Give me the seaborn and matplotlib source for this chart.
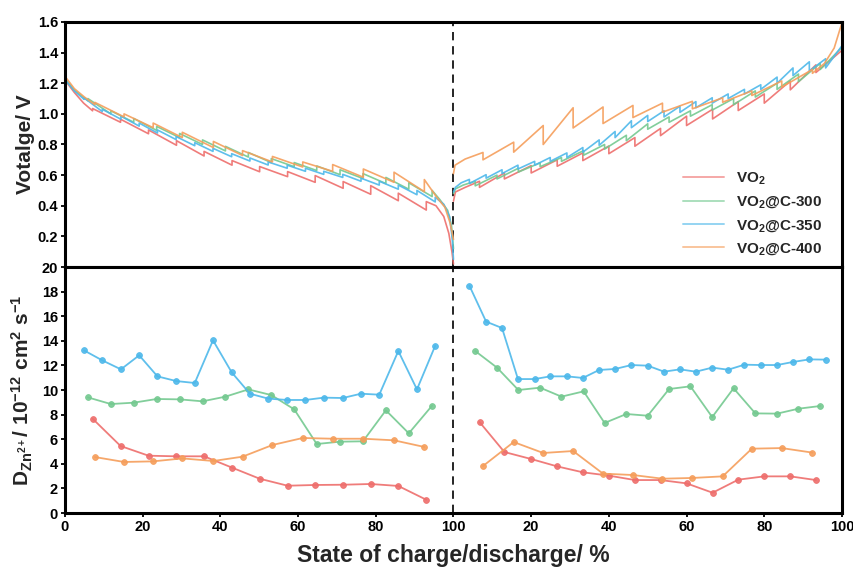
import matplotlib
matplotlib.use("Agg")
import matplotlib.pyplot as plt
import numpy as np
import pandas as pd
import seaborn as sns

# ---------------------------------------------------------------- series
names = ["VO2", "VO2@C-300", "VO2@C-350", "VO2@C-400"]
labels = [r"$\mathbf{VO_2}$", r"$\mathbf{VO_2}$@C-300",
          r"$\mathbf{VO_2}$@C-350", r"$\mathbf{VO_2}$@C-400"]
colors = ["#EE6E6C", "#74C990", "#4DB8EA", "#F59E5B"]

# ---- discharge GITT (state of discharge 0-100 %)
# each titration step: voltage at end of pulse (lo) and after relaxation (hi)
dis_steps_vo2 = [7.1, 14.3, 21.5, 28.7, 35.8, 43.0, 50.1, 57.3, 64.4, 71.6, 78.7, 85.8, 93.0]
dis_lo_vo2 = [1.02, 0.945, 0.87, 0.795, 0.725, 0.665, 0.622, 0.59, 0.553, 0.514, 0.475, 0.433, 0.372]
dis_hi_vo2 = [1.035, 0.965, 0.895, 0.825, 0.755, 0.695, 0.656, 0.623, 0.597, 0.558, 0.531, 0.482, 0.427]
dis_head_x_vo2, dis_head_v_vo2 = [0, 2.4, 4.8], [1.22, 1.14, 1.07]
dis_tail_x_vo2, dis_tail_v_vo2 = [95.5, 97.5, 98.8, 99.6, 100], [0.40, 0.33, 0.22, 0.10, 0.02]

dis_steps_c300 = [5.9, 11.8, 17.7, 23.6, 29.5, 35.4, 41.3, 47.2, 53.1, 59.0, 64.8, 70.8, 76.7, 82.6, 88.5, 94.5]
dis_lo_c300 = [1.085, 1.0, 0.945, 0.892, 0.845, 0.80, 0.758, 0.718, 0.682, 0.655, 0.63, 0.603, 0.578, 0.545, 0.508, 0.46]
dis_hi_c300 = [1.10, 1.02, 0.97, 0.918, 0.872, 0.83, 0.788, 0.748, 0.708, 0.682, 0.66, 0.635, 0.61, 0.585, 0.55, 0.50]
dis_head_x_c300, dis_head_v_c300 = [0, 2.4], [1.23, 1.155]
dis_tail_x_c300, dis_tail_v_c300 = [96.5, 98.5, 99.5, 100], [0.44, 0.37, 0.27, 0.12]

dis_steps_c350 = [4.9, 9.6, 14.4, 19.1, 23.8, 28.6, 33.4, 38.1, 42.9, 47.6, 52.3, 57.2, 61.9, 66.6, 71.5, 76.2, 80.9, 85.8, 90.6, 95.3]
dis_lo_c350 = [1.095, 1.015, 0.965, 0.92, 0.875, 0.832, 0.792, 0.755, 0.72, 0.692, 0.666, 0.645, 0.625, 0.605, 0.585, 0.56, 0.535, 0.508, 0.472, 0.425]
dis_hi_c350 = [1.105, 1.03, 0.985, 0.94, 0.895, 0.852, 0.812, 0.775, 0.74, 0.712, 0.686, 0.665, 0.645, 0.625, 0.605, 0.58, 0.56, 0.535, 0.50, 0.455]
dis_head_x_c350, dis_head_v_c350 = [0, 2.4], [1.225, 1.15]
dis_tail_x_c350, dis_tail_v_c350 = [97.5, 99.0, 99.7, 100], [0.41, 0.33, 0.18, 0.05]

dis_steps_c400 = [7.7, 15.2, 22.7, 30.2, 38.2, 45.7, 53.4, 61.2, 68.9, 76.8, 84.7, 92.5]
dis_lo_c400 = [1.06, 0.98, 0.91, 0.845, 0.78, 0.728, 0.686, 0.653, 0.625, 0.586, 0.553, 0.492]
dis_hi_c400 = [1.075, 1.0, 0.94, 0.88, 0.82, 0.76, 0.722, 0.686, 0.669, 0.640, 0.619, 0.571]
dis_head_x_c400, dis_head_v_c400 = [0, 2.4, 5.0], [1.245, 1.165, 1.11]
dis_tail_x_c400, dis_tail_v_c400 = [95.7, 97.8, 99.1, 100], [0.455, 0.39, 0.29, 0.18]

# ---- charge GITT (state of charge 0-100 %, drawn after the discharge branch)
# each step: voltage at end of pulse (peak) and after relaxation (low)
chg_steps_vo2 = [6.7, 13.1, 20.0, 26.7, 33.3, 40.0, 46.7, 53.3, 60.0, 66.7, 73.3, 80.0, 86.7, 93.3]
chg_peak_vo2 = [0.56, 0.614, 0.662, 0.70, 0.745, 0.79, 0.845, 0.905, 0.985, 1.03, 1.08, 1.13, 1.215, 1.32]
chg_low_vo2 = [0.52, 0.575, 0.614, 0.658, 0.695, 0.74, 0.789, 0.858, 0.924, 0.967, 1.022, 1.07, 1.157, 1.27]
chg_head_x_vo2, chg_head_v_vo2 = [0, 0.5, 3.0], [0.43, 0.49, 0.52]
chg_tail_x_vo2, chg_tail_v_vo2 = [100], [1.415]

chg_steps_c300 = [5.6, 11.2, 16.7, 22.3, 27.8, 33.5, 38.9, 44.5, 50.0, 55.5, 61.0, 66.6, 72.1, 77.7, 83.3, 88.8, 94.4]
chg_peak_c300 = [0.56, 0.60, 0.645, 0.68, 0.715, 0.76, 0.80, 0.86, 0.935, 0.98, 1.02, 1.06, 1.10, 1.15, 1.20, 1.26, 1.33]
chg_low_c300 = [0.53, 0.575, 0.62, 0.655, 0.69, 0.73, 0.77, 0.825, 0.90, 0.945, 0.985, 1.025, 1.06, 1.11, 1.16, 1.21, 1.29]
chg_head_x_c300, chg_head_v_c300 = [0, 0.5, 2.5], [0.48, 0.51, 0.535]
chg_tail_x_c300, chg_tail_v_c300 = [97.5, 100], [1.37, 1.435]

chg_steps_c350 = [4.1, 8.4, 12.5, 16.6, 20.9, 24.9, 29.2, 33.3, 37.5, 41.6, 45.8, 50.0, 54.2, 58.3, 62.4, 66.6, 70.7, 74.9, 79.1, 83.3, 87.4, 91.6, 95.8]
chg_peak_c350 = [0.572, 0.603, 0.635, 0.665, 0.69, 0.715, 0.745, 0.78, 0.83, 0.885, 0.955, 0.99, 1.02, 1.05, 1.08, 1.105, 1.13, 1.16, 1.19, 1.24, 1.30, 1.34, 1.36]
chg_low_c350 = [0.545, 0.58, 0.61, 0.64, 0.665, 0.69, 0.715, 0.75, 0.795, 0.845, 0.91, 0.95, 0.98, 1.01, 1.04, 1.07, 1.10, 1.13, 1.16, 1.20, 1.25, 1.28, 1.30]
chg_head_x_c350, chg_head_v_c350 = [0, 0.5, 2.0], [0.49, 0.52, 0.55]
chg_tail_x_c350, chg_tail_v_c350 = [100], [1.445]

chg_steps_c400 = [7.6, 15.5, 23.1, 30.8, 38.5, 46.2, 53.8, 61.5, 69.3, 76.8, 84.5, 92.4]
chg_peak_c400 = [0.748, 0.815, 0.924, 1.04, 1.045, 1.055, 1.07, 1.082, 1.105, 1.15, 1.215, 1.29]
chg_low_c400 = [0.70, 0.75, 0.80, 0.908, 0.937, 0.976, 1.011, 1.033, 1.076, 1.12, 1.175, 1.265]
chg_head_x_c400, chg_head_v_c400 = [0, 0.4, 3.0], [0.61, 0.665, 0.705]
chg_tail_x_c400, chg_tail_v_c400 = [95.5, 98, 100], [1.33, 1.43, 1.595]

# ---- Zn2+ diffusion coefficients (1e-12 cm2 s-1)
d_dis_x_vo2 = [7.1, 14.3, 21.5, 28.7, 35.8, 43.0, 50.1, 57.3, 64.4, 71.6, 78.7, 85.8, 93.0]
d_dis_vo2 = [7.67, 5.45, 4.66, 4.61, 4.61, 3.69, 2.79, 2.22, 2.28, 2.30, 2.36, 2.20, 1.08]
d_dis_x_c300 = [5.9, 11.8, 17.7, 23.6, 29.5, 35.4, 41.3, 47.2, 53.1, 59.0, 64.8, 70.8, 76.7, 82.6, 88.5, 94.5]
d_dis_c300 = [9.40, 8.86, 8.97, 9.27, 9.24, 9.08, 9.46, 10.05, 9.59, 8.43, 5.61, 5.80, 5.83, 8.35, 6.48, 8.73]
d_dis_x_c350 = [4.9, 9.6, 14.4, 19.1, 23.8, 28.6, 33.4, 38.1, 42.9, 47.6, 52.3, 57.2, 61.9, 66.6, 71.5, 76.2, 80.9, 85.8, 90.6, 95.3]
d_dis_c350 = [13.22, 12.41, 11.68, 12.82, 11.11, 10.73, 10.57, 14.04, 11.44, 9.70, 9.30, 9.19, 9.19, 9.38, 9.35, 9.70, 9.62, 13.17, 10.05, 13.60]
d_dis_x_c400 = [7.7, 15.2, 22.7, 30.2, 38.2, 45.7, 53.4, 61.2, 68.9, 76.8, 84.7, 92.5]
d_dis_c400 = [4.55, 4.15, 4.20, 4.44, 4.23, 4.58, 5.53, 6.10, 6.04, 6.04, 5.91, 5.37]

d_chg_x_vo2 = [6.7, 13.1, 20.0, 26.7, 33.3, 40.0, 46.7, 53.3, 60.0, 66.7, 73.3, 80.0, 86.7, 93.3]
d_chg_vo2 = [7.40, 4.96, 4.39, 3.79, 3.31, 3.04, 2.68, 2.68, 2.41, 1.65, 2.71, 2.98, 2.98, 2.68]
d_chg_x_c300 = [5.6, 11.2, 16.7, 22.3, 27.8, 33.5, 38.9, 44.5, 50.0, 55.5, 61.0, 66.6, 72.1, 77.7, 83.3, 88.8, 94.4]
d_chg_c300 = [13.17, 11.82, 10.00, 10.19, 9.46, 9.89, 7.32, 8.05, 7.91, 10.08, 10.30, 7.80, 10.14, 8.10, 8.08, 8.48, 8.70]
d_chg_x_c350 = [4.1, 8.4, 12.5, 16.6, 20.9, 24.9, 29.2, 33.3, 37.5, 41.6, 45.8, 50.0, 54.2, 58.3, 62.4, 66.6, 70.7, 74.9, 79.1, 83.3, 87.4, 91.6, 95.8]
d_chg_c350 = [18.48, 15.56, 15.04, 10.89, 10.89, 11.11, 11.11, 10.98, 11.63, 11.71, 12.03, 11.98, 11.49, 11.68, 11.49, 11.82, 11.65, 12.06, 12.03, 12.03, 12.28, 12.49, 12.47]
d_chg_x_c400 = [7.6, 15.5, 23.1, 30.8, 38.5, 46.2, 53.8, 61.5, 69.3, 76.8, 84.5, 92.4]
d_chg_c400 = [3.82, 5.77, 4.88, 5.04, 3.20, 3.09, 2.79, 2.85, 2.98, 5.23, 5.28, 4.91]

x_tick_labels = ["0", "20", "40", "60", "80", "100", "20", "40", "60", "80", "100"]

# ---------------------------------------------------------------- helpers
def titration_path(head_x, head_v, steps, before, after, tail_x, tail_v, offset=0.0):
    """Polyline of a GITT curve: pulse segments joined by vertical relaxation jumps."""
    xs, vs = list(head_x), list(head_v)
    for s, b, a in zip(steps, before, after):
        xs += [s, s]
        vs += [b, a]
    xs += list(tail_x)
    vs += list(tail_v)
    return pd.DataFrame({"x": np.asarray(xs) + offset, "v": vs})

dis = {
    "VO2": (dis_head_x_vo2, dis_head_v_vo2, dis_steps_vo2, dis_lo_vo2, dis_hi_vo2, dis_tail_x_vo2, dis_tail_v_vo2),
    "VO2@C-300": (dis_head_x_c300, dis_head_v_c300, dis_steps_c300, dis_lo_c300, dis_hi_c300, dis_tail_x_c300, dis_tail_v_c300),
    "VO2@C-350": (dis_head_x_c350, dis_head_v_c350, dis_steps_c350, dis_lo_c350, dis_hi_c350, dis_tail_x_c350, dis_tail_v_c350),
    "VO2@C-400": (dis_head_x_c400, dis_head_v_c400, dis_steps_c400, dis_lo_c400, dis_hi_c400, dis_tail_x_c400, dis_tail_v_c400),
}
chg = {
    "VO2": (chg_head_x_vo2, chg_head_v_vo2, chg_steps_vo2, chg_peak_vo2, chg_low_vo2, chg_tail_x_vo2, chg_tail_v_vo2),
    "VO2@C-300": (chg_head_x_c300, chg_head_v_c300, chg_steps_c300, chg_peak_c300, chg_low_c300, chg_tail_x_c300, chg_tail_v_c300),
    "VO2@C-350": (chg_head_x_c350, chg_head_v_c350, chg_steps_c350, chg_peak_c350, chg_low_c350, chg_tail_x_c350, chg_tail_v_c350),
    "VO2@C-400": (chg_head_x_c400, chg_head_v_c400, chg_steps_c400, chg_peak_c400, chg_low_c400, chg_tail_x_c400, chg_tail_v_c400),
}
diff_dis = {
    "VO2": (d_dis_x_vo2, d_dis_vo2), "VO2@C-300": (d_dis_x_c300, d_dis_c300),
    "VO2@C-350": (d_dis_x_c350, d_dis_c350), "VO2@C-400": (d_dis_x_c400, d_dis_c400),
}
diff_chg = {
    "VO2": (d_chg_x_vo2, d_chg_vo2), "VO2@C-300": (d_chg_x_c300, d_chg_c300),
    "VO2@C-350": (d_chg_x_c350, d_chg_c350), "VO2@C-400": (d_chg_x_c400, d_chg_c400),
}

# ---------------------------------------------------------------- style
sns.set_theme(style="ticks")
plt.rcParams.update({
    "font.family": ["Liberation Sans", "DejaVu Sans"],
    "font.weight": "bold",
    "axes.labelweight": "bold",
    "mathtext.fontset": "custom",
    "mathtext.rm": "Liberation Sans:bold",
    "mathtext.bf": "Liberation Sans:bold",
    "mathtext.it": "Liberation Sans:italic:bold",
    "mathtext.default": "bf",
    "axes.linewidth": 2.2,
    "axes.edgecolor": "black",
})

fig = plt.figure(figsize=(8.54, 5.67), dpi=100)
ax_v = fig.add_axes([0.0761, 0.5291, 0.9098, 0.4321])
ax_d = fig.add_axes([0.0761, 0.0952, 0.9098, 0.4339], sharex=ax_v)

# ---- voltage profiles
for name, lab, col in zip(names, labels, colors):
    d1 = titration_path(*dis[name])
    d2 = titration_path(*chg[name], offset=100.0)
    sns.lineplot(data=d1, x="x", y="v", sort=False, estimator=None, color=col,
                 lw=1.2, alpha=0.9, ax=ax_v, label=lab)
    sns.lineplot(data=d2, x="x", y="v", sort=False, estimator=None, color=col,
                 lw=1.2, alpha=0.9, ax=ax_v)

# ---- diffusion coefficients
for name, col in zip(names, colors):
    xd, yd = diff_dis[name]
    xc, yc = diff_chg[name]
    for xx, yy in ((np.asarray(xd), yd), (np.asarray(xc) + 100.0, yc)):
        sns.lineplot(x=xx, y=yy, sort=False, estimator=None, color=col, lw=1.3,
                     marker="o", markersize=4.2, markeredgewidth=0.6,
                     markeredgecolor=col, alpha=0.9, ax=ax_d)

for ax in (ax_v, ax_d):
    ax.axvline(100, color="black", lw=1.2, ls=(0, (5, 3.5)), zorder=0)
    ax.set_xlim(0, 200)
    for sp in ax.spines.values():
        sp.set_linewidth(2.2)
    ax.tick_params(direction="out", length=3, width=1.3, labelsize=10.5,
                   pad=2, colors="black")

ax_v.set_ylim(0, 1.6)
ax_v.set_yticks(np.arange(0.2, 1.61, 0.2))
ax_v.set_yticklabels([f"{t:.1f}" for t in np.arange(0.2, 1.61, 0.2)])
ax_v.tick_params(axis="x", bottom=False, labelbottom=False)
ax_v.set_xlabel("")
ax_v.set_ylabel("Votalge/ V", fontsize=15, fontweight="bold")
ax_v.yaxis.set_label_coords(-0.038, 0.5)

ax_d.set_ylim(0, 20)
ax_d.set_yticks(np.arange(0, 21, 2))
ax_d.set_xticks(np.arange(0, 201, 20))
ax_d.set_xticklabels(x_tick_labels)
ax_d.set_ylabel(r"$\mathbf{D_{Zn^{2+}}/\ 10^{-12}\ cm^{2}\ s^{-1}}$", fontsize=15)
ax_d.yaxis.set_label_coords(-0.039, 0.5)
ax_d.set_xlabel("State of charge/discharge/ %", fontsize=16.5, fontweight="bold", labelpad=7)

for lab in ax_v.get_yticklabels() + ax_d.get_yticklabels() + ax_d.get_xticklabels():
    lab.set_fontweight("bold")

leg = ax_v.legend(loc="lower right", bbox_to_anchor=(0.993, -0.016), frameon=False,
                  prop={"weight": "bold", "size": 11}, handlelength=2.7,
                  labelspacing=0.5, handletextpad=0.8)
for h in leg.get_lines():
    h.set_linewidth(1.4)
    h.set_alpha(0.6)

fig.savefig("out.png", dpi=100)
